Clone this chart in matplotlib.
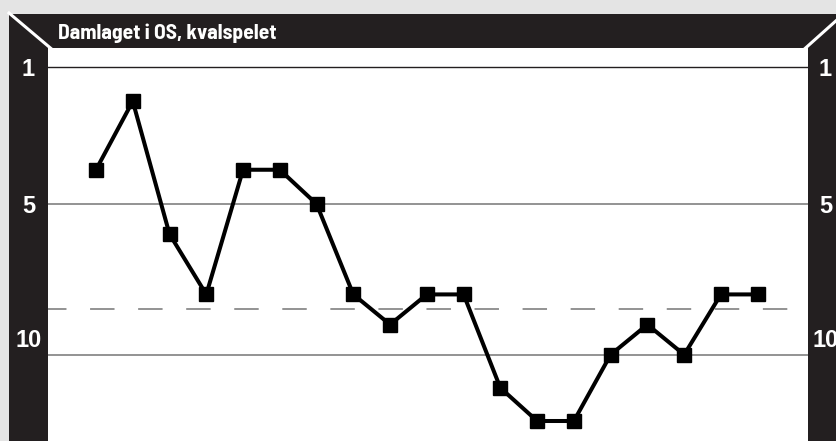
import numpy as np
import matplotlib
matplotlib.use("Agg")
import matplotlib.pyplot as plt
import matplotlib.transforms as mtransforms
from matplotlib.lines import Line2D
from matplotlib.patches import Rectangle

plt.rcParams["lines.scale_dashes"] = False

# ---- data ----
title = "Damlaget i OS, kvalspelet"
ranks = [4, 2, 6, 8, 4, 4, 5, 8, 9, 8, 8, 11, 12, 12, 10, 9, 10, 8, 8]
games = list(range(len(ranks)))
tick_vals = [1, 5, 10]
tick_labels = ["1", "5", "10"]
cutoff = 8.5

# ---- styling ----
W, H, DPI = 837, 441, 100
BG = "#e4e4e4"
DARK = "#231f20"
GRID = "#808080"

# piecewise-linear rank scale (as drawn in the original graphic)
knots_r = np.array([1.0, 5.0, 10.0, 12.0])
knots_u = np.array([0.0, 137.0, 287.7, 354.0])
s0 = (knots_u[1] - knots_u[0]) / (knots_r[1] - knots_r[0])
s1 = (knots_u[-1] - knots_u[-2]) / (knots_r[-1] - knots_r[-2])


def fwd(r):
    r = np.asarray(r, dtype=float)
    u = np.interp(r, knots_r, knots_u)
    u = np.where(r < knots_r[0], knots_u[0] + (r - knots_r[0]) * s0, u)
    u = np.where(r > knots_r[-1], knots_u[-1] + (r - knots_r[-1]) * s1, u)
    return u


def inv(u):
    u = np.asarray(u, dtype=float)
    r = np.interp(u, knots_u, knots_r)
    r = np.where(u < knots_u[0], knots_r[0] + (u - knots_u[0]) / s0, r)
    r = np.where(u > knots_u[-1], knots_r[-1] + (u - knots_u[-1]) / s1, r)
    return r


fig = plt.figure(figsize=(W / DPI, H / DPI), dpi=DPI, facecolor=BG)


def fx(px):
    return px / W


def fy(py):
    return 1 - py / H


# black frame
fig.add_artist(Rectangle((fx(9), fy(441) - 0.01), fx(837) - fx(9) + 0.01, fy(14) - fy(441) + 0.01,
                         transform=fig.transFigure, facecolor=DARK, edgecolor="none", zorder=0))

# plot area
ax_l, ax_r, ax_t, ax_b = 48, 808, 48, 441
ax = fig.add_axes([fx(ax_l), fy(ax_b), fx(ax_r) - fx(ax_l), fy(ax_t) - fy(ax_b)])
ax.set_facecolor("white")
for s in ax.spines.values():
    s.set_visible(False)
ax.set_yscale("function", functions=(fwd, inv))

# x: game index, first point at ~96 px, spacing ~36.76 px
step = 36.76
ax.set_xlim(-(96 - ax_l) / step, (ax_r - 96) / step)
ax.set_ylim(float(inv(ax_b - 67)), float(inv(ax_t - 67)))
ax.set_xticks([])
ax.set_yticks([])
ax.minorticks_off()

# grid lines
for v in tick_vals:
    ax.axhline(v, color=DARK if v == 1 else GRID, lw=1.0 if v == 1 else 1.2, zorder=1)
ax.axhline(cutoff, color=GRID, lw=1.2, linestyle=(4.3, (17.6, 17.0)), zorder=1)

# data line
ax.plot(games, ranks, color="black", lw=2.9, marker="s", markersize=9.6,
        markerfacecolor="black", markeredgecolor="black", zorder=3, clip_on=False)

# tick labels on both sides
trans = mtransforms.blended_transform_factory(fig.transFigure, ax.transData)
for v, lab in zip(tick_vals, tick_labels):
    off = mtransforms.ScaledTranslation(0, 17 / DPI if v == 10 else 0, fig.dpi_scale_trans)
    for xc in (28.5, 825.5):
        fig.text(fx(xc), v, lab, transform=trans + off, ha="center", va="center_baseline",
                 color="white", fontsize=17, fontweight="bold",
                 family=["Liberation Sans", "DejaVu Sans"], zorder=5)

# corner diagonals
fig.add_artist(Line2D([fx(9), fx(51)], [fy(13), fy(48.5)], transform=fig.transFigure,
                      color="white", lw=2.2, zorder=4))
fig.add_artist(Line2D([fx(838), fx(805)], [fy(19), fy(48.5)], transform=fig.transFigure,
                      color="white", lw=2.2, zorder=4))

# title
fig.text(fx(58), fy(39), title, ha="left", va="baseline", color="white",
         fontsize=15.5, fontweight="bold",
         family=["Barlow Semi Condensed", "Open Sans Condensed", "DejaVu Sans"], zorder=5)

fig.savefig("out.png", dpi=DPI, facecolor=BG)
